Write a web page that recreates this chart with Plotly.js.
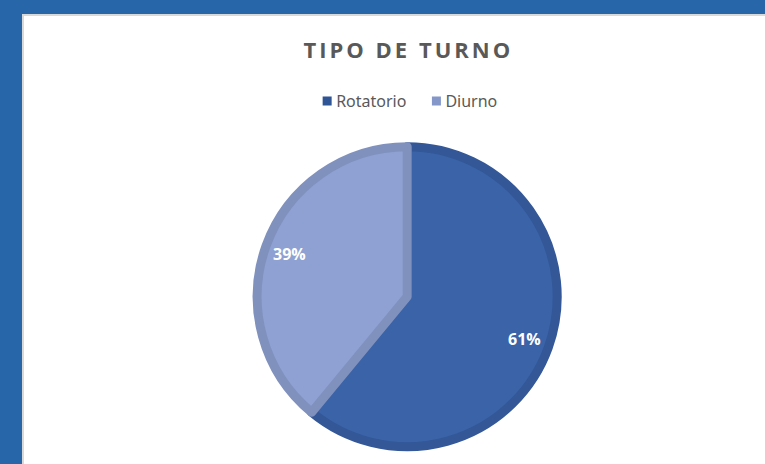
<!DOCTYPE html>
<html>
<head>
<meta charset="utf-8">
<script src="https://cdn.plot.ly/plotly-3.0.1.min.js"></script>
<style>
  html, body { margin: 0; padding: 0; overflow: hidden; }
  body { background: #2766a8; width: 765px; height: 464px; position: relative; }
  #frame { position: absolute; left: 22px; top: 14px; width: 760px; height: 470px; background: #d9d9d9; }
  #chart { position: absolute; left: 24px; top: 16px; width: 741px; height: 448px; background: #fff; }
  .gtitle { letter-spacing: 3px; }
</style>
</head>
<body>
<div id="frame"></div>
<div id="chart"></div>
<script>
const chartTitle = "TIPO DE TURNO";
const categories = ["Rotatorio", "Diurno"];
const values = [61, 39];
const fillColors = ["#3A63A8", "#8EA1D2"];
const lineColors = ["#335797", "#8091BE"];
const legendColors = ["#2F5597", "#8497C8"];

const W = 741, H = 448;
const cx = 383.2, cyTop = 280.7, r = 150;
const labelRadius = 125;

const data = [{
  type: "pie",
  labels: categories,
  values: values,
  sort: false,
  direction: "clockwise",
  rotation: 0,
  marker: { colors: fillColors, line: { color: lineColors, width: 9 } },
  textinfo: "none",
  hoverinfo: "none",
  domain: {
    x: [(cx - r) / W, (cx + r) / W],
    y: [(H - cyTop - r) / H, (H - cyTop + r) / H]
  }
}];

// percentage labels placed along each slice's bisector
const total = values.reduce((a, b) => a + b, 0);
const annotations = [];
let acc = 0;
values.forEach((v) => {
  const mid = (acc + v / 2) / total * 2 * Math.PI; // clockwise from 12 o'clock
  acc += v;
  const px = cx + labelRadius * Math.sin(mid);
  const py = cyTop - labelRadius * Math.cos(mid);
  annotations.push({
    text: "<b>" + Math.round(v / total * 100) + "%</b>",
    x: px / W, y: 1 - py / H, xref: "paper", yref: "paper",
    xanchor: "center", yanchor: "middle", showarrow: false,
    font: { family: "Open Sans", size: 16, color: "#ffffff" }
  });
});

const layout = {
  width: W, height: H,
  margin: { l: 0, r: 0, t: 0, b: 0, autoexpand: false },
  paper_bgcolor: "#ffffff",
  title: {
    text: "<b>" + chartTitle + "</b>",
    font: { family: "Open Sans", size: 22, color: "#595959" },
    x: 0.5187, xref: "container", xanchor: "center",
    y: 1 - 34 / H, yref: "container", yanchor: "middle"
  },
  showlegend: true,
  legend: {
    orientation: "h",
    x: 0.511, xanchor: "center",
    y: 1 - 85 / H, yref: "paper", yanchor: "middle",
    font: { family: "Noto Sans", size: 16, color: "#595959" },
    itemwidth: 30,
    traceorder: "normal"
  },
  annotations: annotations,
  hovermode: false
};

Plotly.newPlot("chart", data, layout, { displayModeBar: false, staticPlot: true }).then((gd) => {
  // smaller square legend keys placed close to their text, as in the original
  gd.querySelectorAll(".legend .traces").forEach((tr, i) => {
    const p = tr.querySelector("path.legendpie");
    if (p) {
      p.setAttribute("d", "M4.5,4.5H-4.5V-4.5H4.5Z");
      p.setAttribute("transform", "translate(31,0)");
      p.style.strokeWidth = "0px";
      p.style.fill = legendColors[i];
    }
    if (i > 0) {
      const t = tr.getAttribute("transform") || "";
      const m = t.match(/translate\(\s*([-\d.]+)[ ,]+([-\d.]+)\s*\)/);
      if (m) tr.setAttribute("transform", "translate(" + (parseFloat(m[1]) - 6 * i) + "," + m[2] + ")");
    }
  });
});
</script>
</body>
</html>
